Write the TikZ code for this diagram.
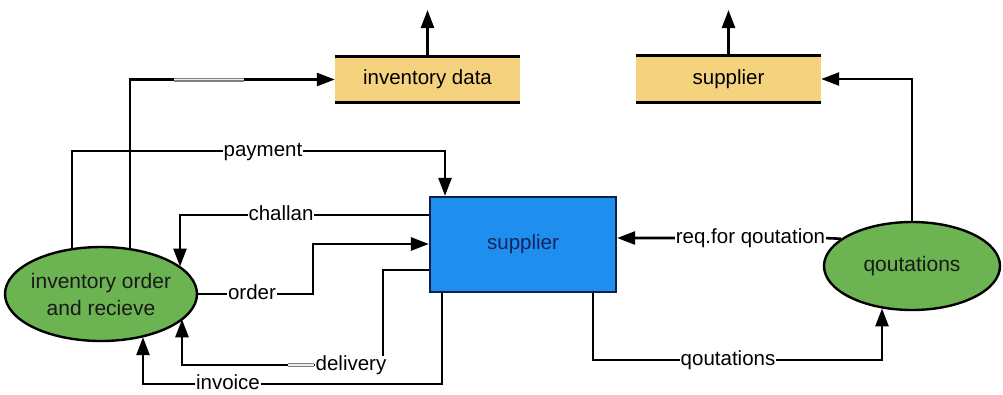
\documentclass[tikz,border=0pt]{standalone}
\usepackage{fontspec}
\setmainfont{Liberation Sans}
\usetikzlibrary{arrows.meta,shapes.geometric,calc,backgrounds}
\definecolor{storey}{HTML}{F5D37E}
\definecolor{boxblue}{HTML}{1E8FEE}
\definecolor{boxedge}{HTML}{10204A}
\definecolor{boxtext}{HTML}{16235E}
\definecolor{bubgreen}{HTML}{6CB452}
\begin{document}
\begin{tikzpicture}[x=1pt,y=-1pt,
  every node/.style={font=\fontsize{20.5}{25}\selectfont},
  conn/.style={draw=black, line width=2.6pt},
  arr/.style={conn, -{Triangle[length=18pt,width=13pt]}},
  store/.style={fill=storey, minimum width=185pt, minimum height=46pt, inner sep=0pt},
  stline/.style={draw=black, line width=3pt},
  proc/.style={rectangle, draw=boxedge, line width=2.2pt, fill=boxblue, text=boxtext, minimum width=186pt, minimum height=95pt},
  bubble/.style={ellipse, draw=black, line width=2.4pt, fill=bubgreen, text=black!90, inner xsep=-15pt, inner ysep=0pt, align=center},
  lbl/.style={fill=white, inner xsep=1pt, inner ysep=0pt, anchor=base},
  jump/.style={draw=gray, double=gray!15, double distance=1.4pt, line width=1.3pt}
]
\useasboundingbox (0,0) rectangle (1003,394);
\begin{scope}[on background layer]
  \fill[white] (0,0) rectangle (1003,394);
\end{scope}

% nodes
\node[bubble, minimum width=192pt, minimum height=94pt, font=\fontsize{21}{27}\selectfont] (ioe) at (101,294) {inventory order\\and recieve};
\node[bubble, minimum width=176pt, minimum height=88pt, font=\fontsize{21}{25}\selectfont] (qe) at (912,266) {qoutations};
\node[proc] (sup) at (523,244.5) {supplier};
\node[store] (invd) at (427.5,79.5) {inventory data};
\node[store] (supd) at (728.5,79) {supplier};
\draw[stline] (invd.north west) -- (invd.north east);
\draw[stline] (invd.south west) -- (invd.south east);
\draw[stline] (supd.north west) -- (supd.north east);
\draw[stline] (supd.south west) -- (supd.south east);
\coordinate (invdout) at (427.5,10);
\coordinate (supdout) at (728.5,10);

% connectors
\begin{scope}[on background layer]
  \draw[arr] (invd.north) -- (invdout);
  \draw[arr] (supd.north) -- (supdout);
  % payment
  \draw[arr] ($(ioe.center)+(-29,0)$) |- (445,151) -- (sup.north -| 445,0);
  % inventory data feed
  \draw[arr] ($(ioe.center)+(29,0)$) |- (invd.west);
  \draw[jump] (174,79.5) -- (244,79.5);
  % challan
  \draw[arr] (sup.west |- 0,215) -- (180,215) -- (ioe.19 -| 180,0);
  % order
  \draw[arr] (ioe.east) -- (313,294) -- (313,244) -- (sup.west |- 0,244);
  % delivery
  \draw[arr] (sup.west |- 0,270) -- (383,270) -- (383,365) -- (182,365) -- (ioe.-17 -| 182,0);
  \draw[jump] (288,365) -- (314,365);
  % invoice
  \draw[arr] (sup.south -| 442,0) -- (442,384) -- (143,384) -- (ioe.-45 -| 143,0);
  % qoutations
  \draw[arr] (sup.south -| 593,0) -- (593,360) -- (882,360) -- (qe.-126 -| 882,0);
  % req for qoutation
  \draw[arr] (qe.159) -- (823,238) -- (sup.east |- 0,238);
  % qoutations to supplier store
  \draw[arr] (qe.north) |- (supd.east);
\end{scope}

% labels
\node[lbl] (lpay) at (263,156.5) {payment};
\node[lbl] (lchallan) at (281,220.5) {challan};
\node[lbl] (lorder) at (252,299.5) {order};
\node[lbl] (ldeliv) at (351,370.5) {delivery};
\node[lbl] (linv) at (228,389.5) {invoice};
\node[lbl] (lquot) at (728,365.5) {qoutations};
\node[lbl] (lreq) at (750.5,243.5) {req.for qoutation};
\end{tikzpicture}
\end{document}
